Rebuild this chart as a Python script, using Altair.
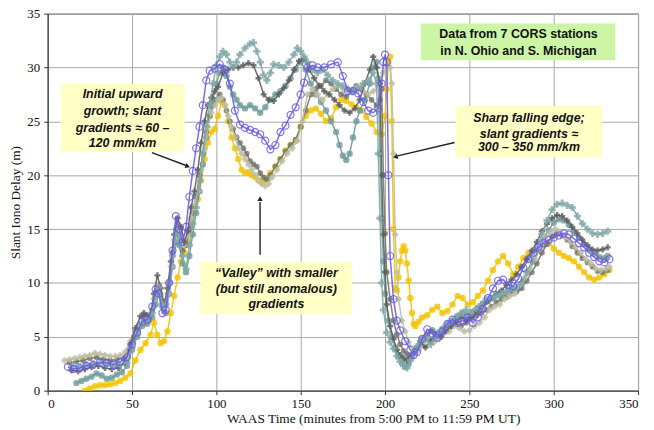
import altair as alt
import pandas as pd

# ---------------- data ----------------
BLUE_T = [12,15,19,23,27,31,35,39,43,47,
          50,53,56,59,62,64,66,68,70,72,
          74,76,78,80,82,84,86,88,90,92,
          94,96,99,102,105,108,111,114,117,120,
          123,126,129,132,135,138,141,144,147,150,
          152,154,157,160,164,168,172,175,178,181,
          184,187,190,193,196,198,199,200,201,202,
          203,205,207,209,212,215,217,219,222,225,
          228,231,234,237,240,243,246,249,252,255,
          258,261,264,267,270,273,276,279,282,285,
          288,291,294,297,300,303,306,309,312,315,
          318,321,324,327,330,333]
BLUE_V = [2.2,2.0,2.1,2.3,2.4,2.6,2.6,2.4,2.7,3.1,
          4.3,5.4,6.4,6.6,7.8,9.4,9.0,7.2,7.5,10.0,
          13.0,16.2,15.0,13.8,15.2,18.0,20.4,22.5,24.5,26.5,
          28.8,29.7,29.9,30.3,29.8,28.5,26.0,24.7,24.4,24.2,
          24.0,23.8,23.2,22.4,22.8,24.0,24.6,25.6,26.3,27.5,
          28.6,30.0,30.2,30.0,30.0,30.3,30.5,29.2,27.8,27.8,
          27.6,26.8,26.0,25.8,26.2,28.5,30.5,31.2,30.5,20.0,
          12.5,8.5,6.5,5.6,4.6,3.8,3.3,3.6,4.8,5.7,
          5.3,4.9,5.5,6.2,6.6,6.3,6.5,6.8,6.3,6.8,
          7.6,8.6,9.5,10.2,10.3,9.8,9.7,10.4,11.4,12.2,
          12.8,13.3,13.7,14.0,14.2,14.4,14.6,14.5,14.1,13.7,
          13.3,12.8,12.4,12.0,11.9,12.2]

YELLOW_T = [22,25,28,31,34,37,40,43,46,49,
            52,55,58,61,63,65,67,69,71,73,
            75,77,79,81,83,85,87,89,91,93,
            95,97,99,101,103,105,107,109,111,113,
            115,117,119,121,123,125,127,129,132,135,
            138,141,144,147,150,153,156,159,162,165,
            168,171,174,177,180,183,186,189,192,195,
            198,200,201,202,203,204,205,206,207,208,
            209,210,211,212,213,214,215,216,217,218,
            220,222,225,228,231,234,237,240,243,246,
            249,252,255,258,261,264,267,270,273,276,
            279,282,285,288,291,294,297,300,303,306,
            309,312,315,318,321,324,327,330,333]
YELLOW_V = [0.0,0.2,0.4,0.5,0.5,0.6,0.7,0.9,1.2,1.6,
            2.8,3.8,4.4,5.2,6.3,5.2,4.4,4.6,5.5,7.2,
            8.8,10.5,12.0,12.8,13.8,15.2,16.5,17.8,19.5,21.5,
            23.0,24.0,24.3,25.5,26.8,26.5,25.0,23.5,22.5,21.5,
            20.5,20.2,20.3,20.0,19.8,19.5,19.3,19.6,20.2,20.8,
            21.5,22.3,22.8,23.2,24.5,25.5,26.0,26.2,25.7,25.0,
            25.3,26.3,27.0,26.9,26.6,26.3,26.0,25.4,24.8,24.0,
            23.8,25.5,28.0,30.5,31.0,25.0,15.0,9.5,9.3,10.5,
            12.0,13.0,13.4,13.0,11.8,10.2,8.6,7.2,6.2,6.0,
            6.4,6.8,7.0,7.5,7.8,7.2,7.4,8.0,8.8,8.6,
            8.0,8.2,8.8,9.3,10.2,11.2,12.0,12.5,11.8,10.8,
            11.5,12.3,12.8,13.0,13.2,13.5,13.7,13.2,12.8,12.5,
            12.3,12.0,11.5,11.0,10.5,10.3,10.5,10.8,11.2]

KHAKI_T = [10,13,16,19,22,25,28,31,34,37,
           40,43,46,49,52,55,58,61,63,65,
           67,69,71,73,75,77,79,81,83,85,
           87,89,91,93,95,97,99,101,103,105,
           107,109,111,113,115,117,119,121,123,125,
           127,129,131,133,136,139,142,145,148,151,
           154,157,160,163,166,169,172,175,178,181,
           184,187,190,193,196,199,201,203,204,205,
           206,207,208,210,212,214,217,220,223,226,
           229,232,235,238,241,244,247,250,253,256,
           259,262,265,268,271,274,277,280,283,286,
           289,292,295,298,301,304,307,310,313,316,
           319,322,325,328,331,333]
KHAKI_V = [2.8,2.9,3.0,3.1,3.2,3.3,3.5,3.4,3.3,3.2,
           3.2,3.3,3.6,4.6,5.5,6.2,6.5,7.0,8.5,9.8,
           8.8,7.8,9.0,11.5,14.0,15.5,14.5,13.5,14.5,16.0,
           17.2,18.5,20.5,22.5,24.5,25.8,26.5,27.0,27.2,26.5,
           25.5,24.5,23.5,22.5,22.0,21.5,21.0,20.5,20.0,19.5,
           19.2,19.0,19.2,19.8,20.5,21.3,22.0,22.5,23.2,25.0,
           27.5,28.0,27.5,27.0,27.5,28.0,28.3,28.0,27.8,28.0,
           28.2,27.8,27.5,27.8,28.2,29.5,30.2,30.0,28.5,22.0,
           14.5,11.0,8.5,6.5,5.5,4.5,3.5,3.8,4.2,4.8,
           4.5,4.8,5.3,5.5,6.0,5.8,5.5,5.6,6.0,6.3,
           6.8,7.5,7.8,8.0,8.5,8.8,9.0,9.8,10.5,11.3,
           12.2,13.2,14.0,14.7,15.0,14.7,14.2,13.8,13.3,12.8,
           12.2,11.8,11.3,11.2,11.3,11.5]

DGRAY1_T = [14,18,22,26,30,34,38,42,46,49,
            52,55,57,59,61,63,65,67,69,71,
            73,75,77,79,81,83,85,87,89,91,
            93,95,97,99,101,104,107,110,113,116,
            119,122,125,128,131,134,137,140,143,146,
            149,152,155,158,161,164,167,170,173,176,
            179,182,185,188,191,193,195,197,198,199,
            200,201,203,205,207,209,211,213,215,218,
            221,224,227,230,233,236,239,242,245,248,
            251,254,257,260,263,266,269,272,275,278,
            281,284,287,290,293,296,299,302,305,308,
            311,314,317,320,323,326,329,332]
DGRAY1_V = [1.9,1.8,2.0,2.2,2.3,2.1,2.0,2.1,2.6,4.3,
            5.8,6.9,7.2,7.0,7.0,9.0,10.7,9.5,8.0,9.5,
            12.0,14.5,16.0,15.2,13.8,14.8,17.0,18.5,20.5,23.0,
            25.0,26.5,27.2,27.8,28.2,29.5,29.8,30.0,30.0,30.2,
            30.4,30.2,29.0,27.5,27.0,26.9,27.5,28.1,28.8,29.8,
            30.6,30.8,29.8,29.0,28.3,27.8,27.5,27.0,26.5,26.0,
            25.8,26.2,27.0,28.5,29.8,31.0,30.0,28.5,20.0,14.5,
            11.0,8.0,6.0,4.8,3.8,3.3,3.0,2.8,3.1,3.8,
            4.5,4.0,4.6,5.2,5.0,5.6,6.0,6.4,6.8,6.5,
            6.8,7.3,7.8,8.2,8.6,9.0,9.3,9.8,10.3,10.8,
            11.5,12.2,13.0,13.8,14.8,15.5,16.0,16.3,16.2,15.8,
            15.2,14.6,14.0,13.5,13.1,13.0,13.1,13.3]

TEAL1_T = [15,19,23,27,31,35,39,43,47,50,
           53,56,59,62,64,66,68,70,72,74,
           76,78,80,82,84,86,88,90,92,94,
           96,98,100,102,104,106,108,110,112,114,
           117,120,122,124,126,128,130,132,134,137,
           140,143,146,148,150,152,154,157,160,163,
           166,169,172,175,178,181,184,187,190,193,
           195,196,197,198,199,201,203,205,207,209,
           211,213,215,217,219,221,224,227,230,233,
           236,239,242,245,248,251,254,257,260,263,
           266,269,272,275,278,281,284,287,290,293,
           296,299,302,305,308,311,314,317,320,323,
           326,329,332]
TEAL1_V = [2.3,2.2,2.4,2.5,2.6,2.4,2.3,2.4,2.6,4.0,
           5.2,6.3,6.5,7.2,8.8,9.6,8.0,8.0,10.0,12.5,
           14.5,14.0,12.5,11.3,13.5,15.5,17.0,19.5,22.0,24.5,
           26.5,28.5,30.2,31.0,31.5,31.2,30.5,30.0,30.5,31.2,
           31.8,32.2,32.3,31.5,30.5,29.3,28.8,29.5,30.3,30.2,
           30.0,30.5,31.2,31.8,31.5,31.0,30.5,29.8,29.5,29.8,
           29.3,28.8,28.5,28.3,28.0,27.8,28.0,28.5,28.8,29.5,
           28.5,22.0,16.0,10.0,7.5,5.4,4.5,3.9,3.2,2.7,
           2.3,2.1,2.8,3.5,4.1,4.6,4.8,4.3,5.0,5.6,
           6.0,6.4,6.8,7.2,7.5,7.2,7.6,8.0,8.5,8.6,
           8.8,9.0,9.2,9.5,9.6,10.0,11.0,12.0,13.2,14.5,
           15.8,16.8,17.3,17.4,17.2,17.0,16.2,15.5,15.0,14.6,
           14.5,14.6,14.8]

TEAL2_T = [17,20,23,26,29,32,35,38,41,44,
           47,50,53,56,59,62,64,66,68,70,
           72,74,76,78,80,82,84,86,88,90,
           92,94,96,98,100,102,104,106,108,110,
           112,114,117,120,123,126,129,132,135,138,
           141,144,147,150,153,156,159,162,165,168,
           171,173,175,177,179,181,183,185,188,191,
           193,195,196,197,198,199,200,202,204,206,
           208,210,212,214,216,219,222,225,228,231,
           234,237,240,243,246,249,252,255,258,261,
           264,267,270,273,276,279,282,285,288,291,
           294,297,300,303,306,309,312,315,318,321,
           324,327,330,332]
TEAL2_V = [0.7,0.9,1.1,1.3,1.6,1.4,1.1,1.2,1.5,1.7,
           2.3,3.8,5.0,6.0,6.2,6.8,8.0,9.0,7.8,7.2,
           9.0,11.5,13.8,13.5,11.8,11.0,12.5,14.5,16.5,18.5,
           21.0,23.5,25.5,27.0,28.5,29.5,30.0,29.2,28.2,27.5,
           27.0,26.5,26.2,26.5,26.2,25.8,26.3,27.0,27.5,27.8,
           28.3,29.0,29.8,30.5,29.8,28.5,27.5,26.8,26.0,25.0,
           24.0,22.8,21.8,21.4,22.0,23.5,25.0,26.0,27.0,28.5,
           30.0,30.5,29.0,22.0,16.0,12.0,9.0,6.5,5.0,4.0,
           3.2,2.6,2.2,2.5,3.2,4.0,4.8,5.2,5.6,5.3,
           5.7,6.2,6.5,6.9,7.2,7.0,7.3,7.7,8.1,8.3,
           8.6,8.9,8.8,9.2,9.3,9.5,10.2,11.0,12.0,13.0,
           14.0,14.9,15.6,15.9,15.8,15.4,14.8,14.2,13.6,13.1,
           12.7,12.4,12.3,12.5]

DGRAY2_T = [13,17,21,25,29,33,37,41,45,48,
            51,54,57,60,62,64,66,68,70,72,
            74,76,78,80,82,84,86,88,90,92,
            94,96,98,100,102,104,106,108,110,112,
            114,116,118,120,122,124,126,128,130,132,
            135,138,141,144,147,150,153,156,159,162,
            165,168,171,174,177,180,183,186,189,192,
            195,197,198,199,200,201,203,205,207,209,
            211,213,215,218,221,224,227,230,233,236,
            239,242,245,248,251,254,257,260,263,266,
            269,272,275,278,281,284,287,290,293,296,
            299,302,305,308,311,314,317,320,323,326,
            329,332]
DGRAY2_V = [2.6,2.7,2.8,3.0,3.1,2.9,2.8,2.9,3.0,3.8,
            5.0,6.0,6.8,6.5,7.5,9.0,9.8,8.3,8.0,10.0,
            12.8,15.0,14.5,13.0,13.5,15.0,16.5,18.0,20.0,22.0,
            24.0,25.5,26.5,27.0,27.5,27.0,26.0,25.0,24.3,23.5,
            23.0,22.5,22.0,21.3,21.0,20.8,20.2,19.8,19.6,20.0,
            20.8,21.5,22.2,22.8,23.3,24.5,26.0,27.5,28.0,28.3,
            28.8,28.5,28.0,27.5,27.3,27.8,28.3,28.0,27.5,27.0,
            26.5,27.0,28.0,20.0,14.6,11.0,8.5,6.5,5.2,4.3,
            3.7,3.4,3.2,3.6,4.3,5.0,5.5,5.2,5.0,5.5,
            5.9,6.2,6.0,6.3,6.7,7.0,7.2,7.5,7.8,8.2,
            8.5,8.7,9.0,9.2,9.5,10.2,11.0,11.8,12.8,13.6,
            14.3,14.6,14.4,14.0,13.4,12.8,12.3,11.9,11.5,11.1,
            11.0,11.2]

# drawing order: bottom -> top
STATIONS = [
    ("yellow", YELLOW_T, YELLOW_V),
    ("teal2", TEAL2_T, TEAL2_V),
    ("dgray2", DGRAY2_T, DGRAY2_V),
    ("khaki", KHAKI_T, KHAKI_V),
    ("dgray1", DGRAY1_T, DGRAY1_V),
    ("teal1", TEAL1_T, TEAL1_V),
    ("blue", BLUE_T, BLUE_V),
]

STYLE = {
    "yellow": dict(color="#f2c300", shape="circle", filled=True, size=42, opacity=0.8),
    "teal2": dict(color="#6f9a9a", shape="circle", filled=True, size=42, opacity=0.8),
    "dgray2": dict(color="#74746e", shape="circle", filled=True, size=34, opacity=0.8),
    "khaki": dict(color="#bebea0", shape="diamond", filled=True, size=55, opacity=0.8),
    "dgray1": dict(color="#5c5c5c", shape="cross", filled=True, size=38, opacity=0.8),
    "teal1": dict(color="#80a7a7", shape="cross", filled=True, size=52, opacity=0.8),
    "blue": dict(color="#6a5ce8", shape="circle", filled=False, size=50, opacity=0.85),
}

rows = []
for name, ts, vs in STATIONS:
    n = min(len(ts), len(vs))
    for i in range(n):
        rows.append({"station": name, "t": ts[i], "v": vs[i]})
df = pd.DataFrame(rows)

# annotations (data units)
BOX_X1 = [7.6, 241.8, 90.6, 221.2]
BOX_X2 = [81.2, 328.8, 180.6, 336.5]
BOX_Y1 = [22.2, 21.65, 7.09, 30.67]
BOX_Y2 = [28.46, 26.43, 11.97, 34.08]
BOX_FILL = ["#ffffc6", "#ffffc6", "#ffffc6", "#cdf5a6"]

NOTE_X = [44.4, 44.4, 44.4, 44.4, 285.3, 285.3, 285.3, 135.6, 135.6, 135.6]
NOTE_Y = [27.54, 25.97, 24.40, 23.03, 25.33, 23.86, 22.57, 10.96, 9.39, 8.01]
NOTE_TEXT = ["Initial upward", "growth; slant", "gradients \u2248 60 \u2013", "120 mm/km",
             "Sharp falling edge;", "slant gradients \u2248", "300 \u2013 350 mm/km",
             "\u201cValley\u201d with smaller", "(but still anomalous)", "gradients"]

INFO_X = [279.1, 279.1]
INFO_Y = [33.07, 31.5]
INFO_TEXT = ["Data from 7 CORS stations", "in N. Ohio and S. Michigan"]

ARROW_X1 = [61.8, 241.2, 125.9]
ARROW_Y1 = [22.1, 23.03, 12.62]
ARROW_X2 = [82.0, 207.5, 125.9]
ARROW_Y2 = [20.9, 21.8, 17.5]
HEAD_X = [82.6, 206.6, 125.9]
HEAD_Y = [20.85, 21.72, 17.75]
HEAD_ANGLE = [111, 256, 0]

# ---------------- chart ----------------
SERIF = "Liberation Serif"
XSCALE = alt.Scale(domain=[0, 350], nice=False)
YSCALE = alt.Scale(domain=[0, 35], nice=False)
XAXIS = alt.Axis(values=list(range(0, 351, 50)), title="WAAS Time (minutes from 5:00 PM to 11:59 PM UT)",
                 titleX=328, titleY=28, titleBaseline="middle", labelPadding=3,
                 labelFont=SERIF, titleFont=SERIF)
YAXIS = alt.Axis(values=list(range(0, 36, 5)), title="Slant Iono Delay (m)",
                 titleX=-32, titleY=190, titleAngle=270, titleBaseline="middle", titleAlign="center",
                 labelPadding=4, labelFont=SERIF, titleFont=SERIF)


def X(f):
    return alt.X(f, type="quantitative", scale=XSCALE, axis=XAXIS)


def Y(f):
    return alt.Y(f, type="quantitative", scale=YSCALE, axis=YAXIS)


layers = []
for name, _, _ in STATIONS:
    s = STYLE[name]
    base = alt.Chart(df).transform_filter(alt.datum.station == name)
    layers.append(base.mark_line(color=s["color"], strokeWidth=1.5, opacity=0.9, clip=True)
                  .encode(x=X("t"), y=Y("v")))
    layers.append(base.mark_point(color=s["color"], shape=s["shape"], filled=s["filled"], size=s["size"],
                                  opacity=s["opacity"], strokeWidth=1.2, clip=True)
                  .encode(x=X("t"), y=Y("v")))

boxes = pd.DataFrame({"x1": BOX_X1, "x2": BOX_X2, "y1": BOX_Y1, "y2": BOX_Y2, "fill": BOX_FILL})
layers.append(alt.Chart(boxes).mark_rect().encode(
    x=X("x1"), x2="x2", y=Y("y1"), y2="y2",
    color=alt.Color("fill:N", scale=None)))

notes = pd.DataFrame({"x": NOTE_X, "y": NOTE_Y, "text": NOTE_TEXT})
layers.append(alt.Chart(notes).mark_text(font="Liberation Sans", fontWeight="bold", fontStyle="italic",
                                         fontSize=12.5, color="#111", baseline="middle", align="center")
              .encode(x=X("x"), y=Y("y"), text="text:N"))

info = pd.DataFrame({"x": INFO_X, "y": INFO_Y, "text": INFO_TEXT})
layers.append(alt.Chart(info).mark_text(font="Liberation Sans", fontWeight="bold",
                                        fontSize=12.5, color="#111", baseline="middle", align="center")
              .encode(x=X("x"), y=Y("y"), text="text:N"))

arrows = pd.DataFrame({"x1": ARROW_X1, "y1": ARROW_Y1, "x2": ARROW_X2, "y2": ARROW_Y2})
layers.append(alt.Chart(arrows).mark_rule(color="#222", strokeWidth=1.4)
              .encode(x=X("x1"), y=Y("y1"), x2="x2", y2="y2"))

for hx, hy, ha in zip(HEAD_X, HEAD_Y, HEAD_ANGLE):
    hd = pd.DataFrame({"x": [hx], "y": [hy]})
    layers.append(alt.Chart(hd).mark_point(shape="triangle", filled=True, color="#222", size=30,
                                           opacity=1, angle=ha)
                  .encode(x=X("x"), y=Y("y")))

chart = alt.layer(*layers).properties(
    width=595, height=380,
    autosize=alt.AutoSizeParams(type="none"),
    padding={"left": 40, "top": 4, "right": 8, "bottom": 36},
).configure_view(stroke="#555", strokeWidth=1).configure_axis(
    gridColor="#a8a8a8", gridWidth=1, domainColor="#333", tickColor="#333", tickSize=4,
    labelFont=SERIF, titleFont=SERIF, labelFontSize=13, titleFontSize=13.5,
    titleFontWeight="normal", labelColor="#111", titleColor="#111",
)

chart.save("out.html", embed_options={"renderer": "svg", "actions": False})
